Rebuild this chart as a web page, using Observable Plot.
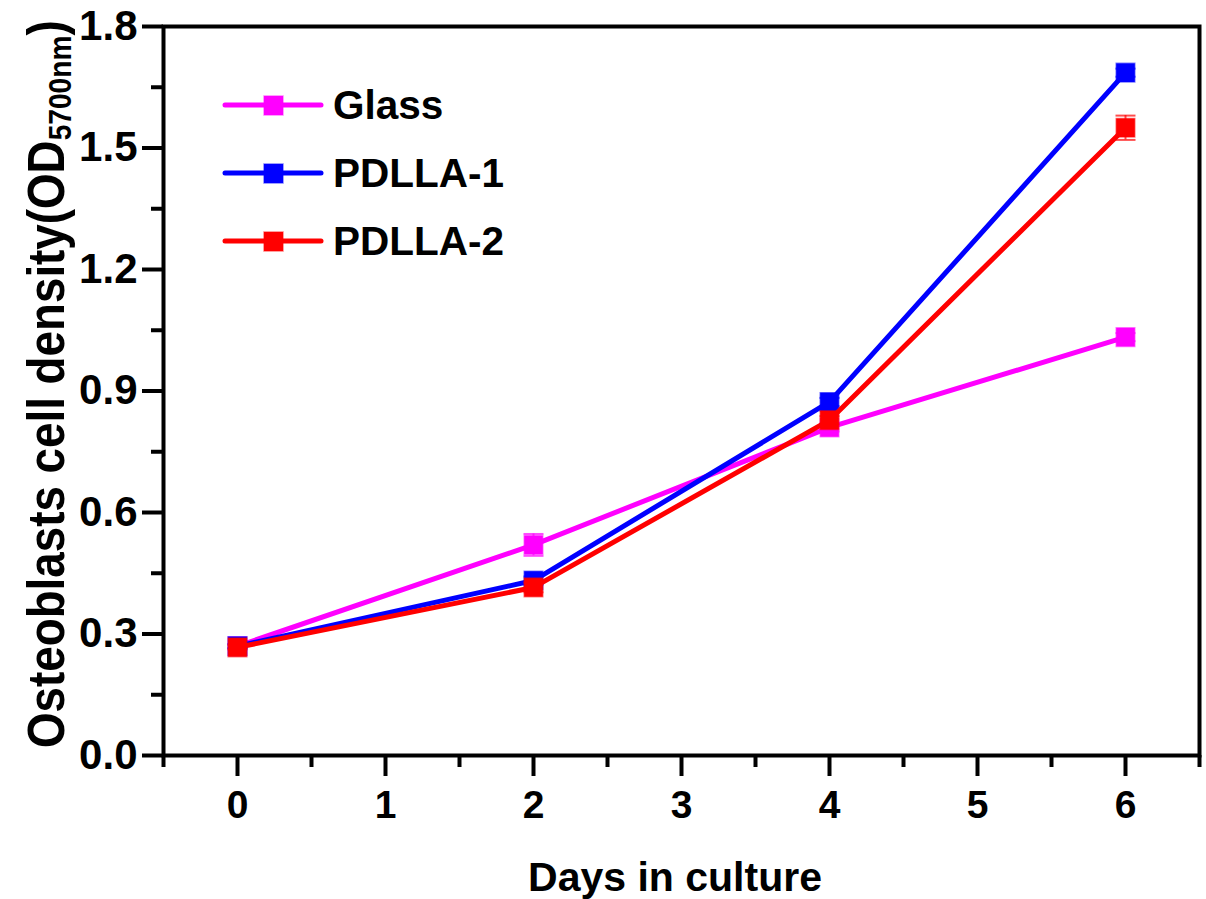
<!DOCTYPE html>
<html><head><meta charset="utf-8">
<script src="https://cdn.jsdelivr.net/npm/d3@7"></script>
<script src="https://cdn.jsdelivr.net/npm/@observablehq/plot@0.6"></script>
<style>
body{margin:0;background:#fff;}
#wrap{position:relative;width:1206px;height:899px;}
.legend{position:absolute;left:222px;top:71px;font:bold 40.5px "Liberation Sans",Arial,sans-serif;color:#000;}
.row{display:flex;align-items:center;height:68px;}
.row svg{margin-right:9px;}
</style></head><body><div id="wrap"></div>
<script>
const days = [0, 2, 4, 6];
const seriesNames = ["Glass", "PDLLA-1", "PDLLA-2"];
const seriesColors = ["#ff00ff", "#0000ff", "#ff0000"];
const glass = [0.27, 0.52, 0.81, 1.033];
const glassErr = [0.005, 0.027, 0.01, 0.01];
const pdlla1 = [0.27, 0.432, 0.873, 1.686];
const pdlla1Err = [0.005, 0.01, 0.01, 0.01];
const pdlla2 = [0.267, 0.415, 0.828, 1.55];
const pdlla2Err = [0.005, 0.012, 0.01, 0.03];
const xTicks = [0, 1, 2, 3, 4, 5, 6];
const xMinor = [-0.5, 0.5, 1.5, 2.5, 3.5, 4.5, 5.5, 6.5];
const yTicks = [0, 0.3, 0.6, 0.9, 1.2, 1.5, 1.8];
const yMinor = [0.15, 0.45, 0.75, 1.05, 1.35, 1.65];
const xLabel = "Days in culture";
const yLabelMain = "Osteoblasts cell density(OD";
const yLabelSub = "5700nm";
const yLabelEnd = ")";

const values = [glass, pdlla1, pdlla2];
const errs = [glassErr, pdlla1Err, pdlla2Err];
const FONT = '"Liberation Sans", Arial, sans-serif';

const capSymbol = {draw(ctx) { ctx.moveTo(-10, 0); ctx.lineTo(10, 0); }};

const marks = [];
seriesNames.forEach((name, i) => {
  const rows = days.map((d, j) => ({day: d, v: values[i][j], e: errs[i][j]}));
  const caps = rows.flatMap(r => [{day: r.day, v: r.v - r.e}, {day: r.day, v: r.v + r.e}]);
  const c = seriesColors[i];
  marks.push(
    Plot.line(rows, {x: "day", y: "v", stroke: c, strokeWidth: 5}),
    Plot.ruleX(rows, {x: "day", y1: r => r.v - r.e, y2: r => r.v + r.e, stroke: c, strokeWidth: 2, strokeOpacity: 0.7}),
    Plot.dot(caps, {x: "day", y: "v", symbol: capSymbol, stroke: c, strokeWidth: 2, strokeOpacity: 0.7, fill: "none"}),
    Plot.dot(rows, {x: "day", y: "v", symbol: "square", r: 10.5, fill: c, stroke: c, strokeOpacity: 0.5, strokeWidth: 1.5})
  );
});

const chart = Plot.plot({
  width: 1206,
  height: 899,
  marginLeft: 163,
  marginRight: 7,
  marginTop: 26,
  marginBottom: 144,
  style: {fontFamily: FONT, fontSize: "39px", fontWeight: "bold", color: "#000", background: "#fff"},
  x: {domain: [-0.5, 6.5]},
  y: {domain: [0, 1.8]},
  marks: [
    Plot.axisX({ticks: xMinor, tickSize: 12, tickFormat: () => "", label: null, strokeWidth: 4}),
    Plot.axisX({ticks: xTicks, tickSize: 21, tickPadding: 14, tickFormat: d3.format("d"), label: null, strokeWidth: 4}),
    Plot.axisY({ticks: yMinor, tickSize: 12, tickFormat: () => "", label: null, strokeWidth: 4}),
    Plot.axisY({ticks: yTicks, tickSize: 21, tickPadding: 5, tickFormat: d3.format(".1f"), label: null, strokeWidth: 4, fontSize: 42}),
    ...marks,
    Plot.frame({stroke: "#000", strokeWidth: 4})
  ]
});

const svg = d3.select(chart);
svg.append("text")
  .attr("x", 675).attr("y", 891)
  .attr("text-anchor", "middle")
  .style("font", `bold 41px ${FONT}`)
  .text(xLabel);
const yl = svg.append("text")
  .attr("transform", "translate(64,748) rotate(-90) scale(0.88,1)")
  .attr("text-anchor", "start")
  .style("font", `bold 52px ${FONT}`);
yl.append("tspan").text(yLabelMain);
yl.append("tspan").attr("baseline-shift", "-22%").style("font-size", "32px").text(yLabelSub);
yl.append("tspan").text(yLabelEnd);

const wrap = document.getElementById("wrap");
wrap.appendChild(chart);

const legend = document.createElement("div");
legend.className = "legend";
seriesNames.forEach((name, i) => {
  const row = document.createElement("div");
  row.className = "row";
  const c = seriesColors[i];
  row.innerHTML = `<svg width="102" height="24"><line x1="3" x2="99" y1="12" y2="12" stroke="${c}" stroke-width="5" stroke-linecap="round"/><rect x="42" y="3" width="19" height="19" fill="${c}" stroke="${c}" stroke-opacity="0.5" stroke-width="1.5"/></svg><span>${name}</span>`;
  legend.appendChild(row);
});
wrap.appendChild(legend);
</script>
</body></html>
